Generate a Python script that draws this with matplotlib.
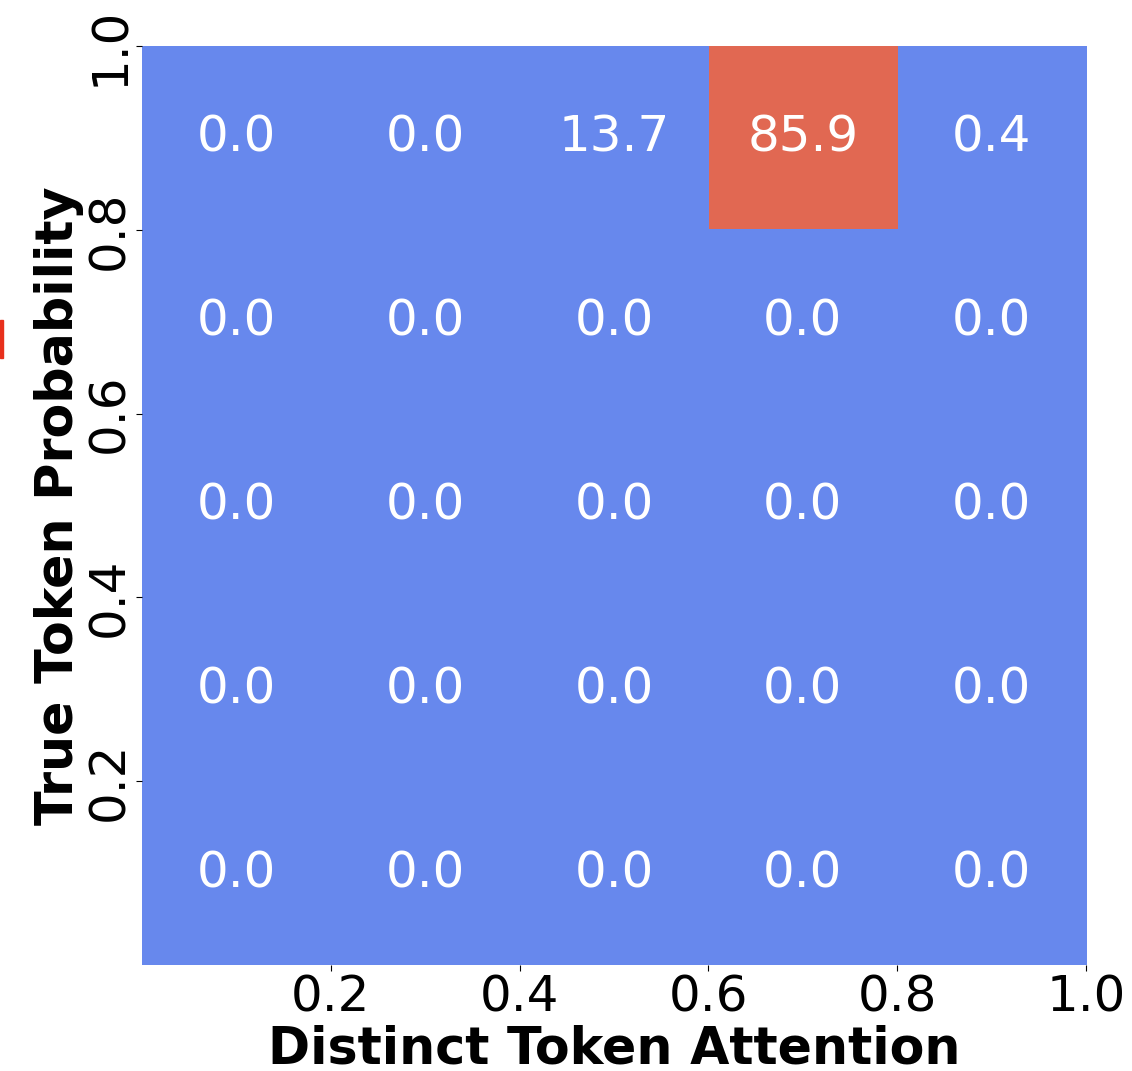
import matplotlib
matplotlib.use('Agg')
import matplotlib.pyplot as plt
import numpy as np
from matplotlib.colors import ListedColormap, Normalize
from matplotlib.patches import Rectangle

# percentage of samples per (attention bin, probability bin); rows from top (0.8-1.0) down
attn_edges = [0.0, 0.2, 0.4, 0.6, 0.8, 1.0]
prob_edges = [0.0, 0.2, 0.4, 0.6, 0.8, 1.0]
pct = [
    [0.0, 0.0, 13.7, 85.9, 0.4],
    [0.0, 0.0, 0.0, 0.0, 0.0],
    [0.0, 0.0, 0.0, 0.0, 0.0],
    [0.0, 0.0, 0.0, 0.0, 0.0],
    [0.0, 0.0, 0.0, 0.0, 0.0],
]
tick_vals = [0.2, 0.4, 0.6, 0.8, 1.0]

grid = np.array(pct)
# discrete coolwarm palette (6 steps)
cmap = ListedColormap(plt.cm.coolwarm(np.linspace(0, 1, 8)[1:-1]))

fig = plt.figure(figsize=(11.32, 10.71), dpi=100)
ax = fig.add_axes([0.1254, 0.099, 0.834, 0.858])

ax.imshow(grid, cmap=cmap, norm=Normalize(0, 100), aspect='auto',
          extent=[attn_edges[0], attn_edges[-1], prob_edges[0], prob_edges[-1]],
          origin='upper', interpolation='nearest')

xc = [(a + b) / 2 for a, b in zip(attn_edges[:-1], attn_edges[1:])]
yc = [(a + b) / 2 for a, b in zip(prob_edges[:-1], prob_edges[1:])][::-1]
for i, y in enumerate(yc):
    for j, x in enumerate(xc):
        ax.text(x, y, f'{grid[i, j]:.1f}', ha='center', va='center',
                color='white', fontsize=36)

ax.set_xlim(0, 1)
ax.set_ylim(0, 1)
ax.set_xticks(tick_vals)
ax.set_yticks(tick_vals)
ax.set_xticklabels([f'{v:.1f}' for v in tick_vals], fontsize=36)
ax.set_yticklabels([f'{v:.1f}' for v in tick_vals], fontsize=36,
                   rotation=90, va='center')
ax.tick_params(length=4, width=0.8, pad=2)
for s in ax.spines.values():
    s.set_visible(False)

ax.set_xlabel('Distinct Token Attention', fontsize=36.5, fontweight='bold', labelpad=2)
ax.set_ylabel('True Token Probability', fontsize=36.5, fontweight='bold', labelpad=1)

# small red marker clipped at the left edge
fig.patches.append(Rectangle((0.0, 0.666), 0.0025, 0.035, transform=fig.transFigure,
                             color='#e8301c', zorder=5))

fig.savefig('out.png', dpi=100)
